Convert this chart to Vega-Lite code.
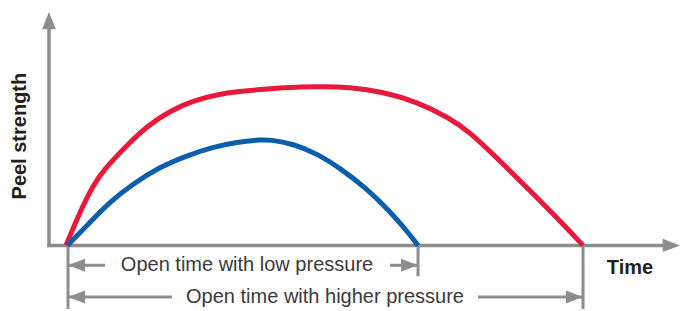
{
  "$schema": "https://vega.github.io/schema/vega-lite/v6.json",
  "width": 688,
  "height": 311,
  "autosize": {"type": "fit", "contains": "padding"},
  "padding": 0,
  "background": "white",
  "config": {"view": {"stroke": null}},
  "datasets": {
    "curves": [
      {"series": "higher", "t": 0, "s": 0},
      {"series": "higher", "t": 2.71, "s": 21.25},
      {"series": "higher", "t": 5.22, "s": 37.5},
      {"series": "higher", "t": 7.16, "s": 47},
      {"series": "higher", "t": 11.8, "s": 63},
      {"series": "higher", "t": 15.67, "s": 75},
      {"series": "higher", "t": 20.12, "s": 84.6},
      {"series": "higher", "t": 24.56, "s": 91},
      {"series": "higher", "t": 29.21, "s": 95},
      {"series": "higher", "t": 33.66, "s": 96.9},
      {"series": "higher", "t": 37.52, "s": 98},
      {"series": "higher", "t": 41.97, "s": 99.2},
      {"series": "higher", "t": 48.55, "s": 100},
      {"series": "higher", "t": 54.93, "s": 99.6},
      {"series": "higher", "t": 61.32, "s": 96.6},
      {"series": "higher", "t": 67.89, "s": 90.4},
      {"series": "higher", "t": 74.27, "s": 80},
      {"series": "higher", "t": 78, "s": 71.5},
      {"series": "higher", "t": 83.37, "s": 55},
      {"series": "higher", "t": 89.75, "s": 34.4},
      {"series": "higher", "t": 96.13, "s": 13.5},
      {"series": "higher", "t": 100, "s": 0},
      {"series": "low", "t": 0.3, "s": 0},
      {"series": "low", "t": 4.06, "s": 12.5},
      {"series": "low", "t": 8.51, "s": 27.5},
      {"series": "low", "t": 12.96, "s": 38.75},
      {"series": "low", "t": 18.18, "s": 49.4},
      {"series": "low", "t": 23.4, "s": 56.5},
      {"series": "low", "t": 28.43, "s": 61.9},
      {"series": "low", "t": 33.08, "s": 65},
      {"series": "low", "t": 37.52, "s": 66.5},
      {"series": "low", "t": 39.46, "s": 66.5},
      {"series": "low", "t": 43.91, "s": 63.9},
      {"series": "low", "t": 48.55, "s": 57.8},
      {"series": "low", "t": 53.0, "s": 48.6},
      {"series": "low", "t": 58.22, "s": 35.6},
      {"series": "low", "t": 62.67, "s": 21.25},
      {"series": "low", "t": 65.96, "s": 9},
      {"series": "low", "t": 68.09, "s": 0}
    ],
    "axes": [
      {"t": -3.29, "t2": -3.29, "s": 0, "s2": 139.4},
      {"t": -3.29, "t2": 116.4, "s": 0, "s2": 0}
    ],
    "dims": [
      {"t": 0.39, "t2": 0.39, "s": 0, "s2": -40},
      {"t": 68.09, "t2": 68.09, "s": 0, "s2": -19.4},
      {"t": 100, "t2": 100, "s": 0, "s2": -40},
      {"t": 0.39, "t2": 7.54, "s": -12.5, "s2": -12.5},
      {"t": 62.67, "t2": 68.09, "s": -12.5, "s2": -12.5},
      {"t": 0.39, "t2": 20.5, "s": -32.5, "s2": -32.5},
      {"t": 79.69, "t2": 100, "s": -32.5, "s2": -32.5}
    ],
    "dimheads": [
      {"t": 0.39, "s": -12.5, "dir": "left"},
      {"t": 68.09, "s": -12.5, "dir": "right"},
      {"t": 0.39, "s": -32.5, "dir": "left"},
      {"t": 100, "s": -32.5, "dir": "right"}
    ],
    "axisheads": [
      {"t": -3.29, "s": 146.9, "dir": "up"},
      {"t": 118.76, "s": 0, "dir": "right"}
    ],
    "dimlabels": [
      {"t": 35.01, "s": -12.5, "label": "Open time with low pressure"},
      {"t": 50.1, "s": -32.5, "label": "Open time with higher pressure"}
    ],
    "xtitle": [{"t": 109.09, "s": -14.4, "label": "Time"}],
    "ytitle": [{"t": -8.9, "s": 68.75, "label": "Peel strength"}]
  },
  "encoding": {
    "x": {"field": "t", "type": "quantitative", "scale": {"domain": [-12.766, 120.309], "nice": false, "zero": false}, "axis": null},
    "y": {"field": "s", "type": "quantitative", "scale": {"domain": [-40, 154.375], "nice": false, "zero": false}, "axis": null}
  },
  "layer": [
    {
      "data": {"name": "axes"},
      "mark": {"type": "rule", "color": "#8b8d8f", "strokeWidth": 3.5, "strokeCap": "square"},
      "encoding": {"x2": {"field": "t2"}, "y2": {"field": "s2"}}
    },
    {
      "data": {"name": "dims"},
      "mark": {"type": "rule", "color": "#8b8d8f", "strokeWidth": 3},
      "encoding": {"x2": {"field": "t2"}, "y2": {"field": "s2"}}
    },
    {
      "data": {"name": "axisheads"},
      "mark": {"type": "point", "filled": true, "color": "#8b8d8f", "opacity": 1, "size": 300, "strokeWidth": 0},
      "encoding": {
        "shape": {"field": "dir", "type": "nominal", "legend": null,
          "scale": {"domain": ["right", "left", "up"], "range": ["M0,0L-2,-0.76L-2,0.76Z", "M0,0L2,-0.76L2,0.76Z", "M0,0L-0.8,2L0.8,2Z"]}}
      }
    },
    {
      "data": {"name": "dimheads"},
      "mark": {"type": "point", "filled": true, "color": "#8b8d8f", "opacity": 1, "size": 289, "strokeWidth": 0},
      "encoding": {
        "shape": {"field": "dir", "type": "nominal", "legend": null,
          "scale": {"domain": ["right", "left", "up"], "range": ["M0,0L-2,-0.8L-2,0.8Z", "M0,0L2,-0.8L2,0.8Z", "M0,0L-0.8,2L0.8,2Z"]}}
      }
    },
    {
      "data": {"name": "curves"},
      "mark": {"type": "line", "interpolate": "basis", "strokeWidth": 5, "strokeCap": "butt"},
      "encoding": {
        "color": {"field": "series", "type": "nominal", "legend": null,
          "scale": {"domain": ["higher", "low"], "range": ["#e8193b", "#0a5eab"]}}
      }
    },
    {
      "data": {"name": "dimlabels"},
      "mark": {"type": "text", "font": "Liberation Sans", "fontSize": 20, "color": "#3a3a3a", "align": "center", "baseline": "middle"},
      "encoding": {"text": {"field": "label"}}
    },
    {
      "data": {"name": "xtitle"},
      "mark": {"type": "text", "font": "Liberation Sans", "fontSize": 20, "fontWeight": "bold", "color": "#231f20", "align": "center", "baseline": "middle"},
      "encoding": {"text": {"field": "label"}}
    },
    {
      "data": {"name": "ytitle"},
      "mark": {"type": "text", "font": "Liberation Sans", "fontSize": 20, "fontWeight": "bold", "color": "#231f20", "align": "center", "baseline": "middle", "angle": 270},
      "encoding": {"text": {"field": "label"}}
    }
  ]
}
